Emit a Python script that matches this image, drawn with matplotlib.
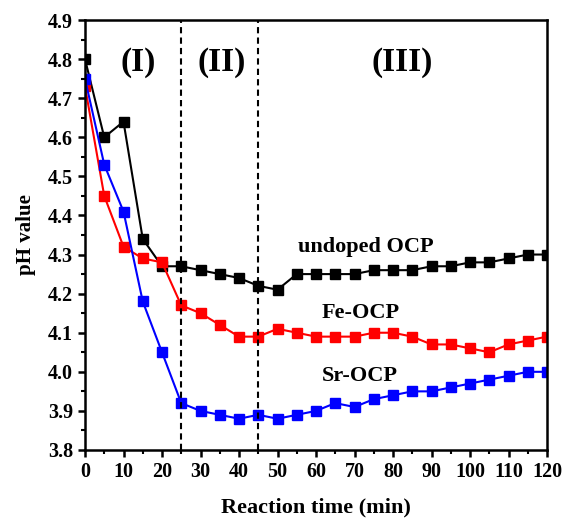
import matplotlib
matplotlib.use("Agg")
import matplotlib.pyplot as plt
import numpy as np
from matplotlib.ticker import MultipleLocator

time_min = [0, 5, 10, 15, 20, 25, 30, 35, 40, 45, 50, 55, 60, 65, 70, 75, 80, 85, 90, 95, 100, 105, 110, 115, 120]
undoped = [4.80, 4.60, 4.64, 4.34, 4.27, 4.27, 4.26, 4.25, 4.24, 4.22, 4.21, 4.25, 4.25, 4.25, 4.25, 4.26, 4.26, 4.26, 4.27, 4.27, 4.28, 4.28, 4.29, 4.30, 4.30]
fe_ocp = [4.73, 4.45, 4.32, 4.29, 4.28, 4.17, 4.15, 4.12, 4.09, 4.09, 4.11, 4.10, 4.09, 4.09, 4.09, 4.10, 4.10, 4.09, 4.07, 4.07, 4.06, 4.05, 4.07, 4.08, 4.09]
sr_ocp = [4.75, 4.53, 4.41, 4.18, 4.05, 3.92, 3.90, 3.89, 3.88, 3.89, 3.88, 3.89, 3.90, 3.92, 3.91, 3.93, 3.94, 3.95, 3.95, 3.96, 3.97, 3.98, 3.99, 4.00, 4.00]
stage_bounds = [25, 45]
stage_labels = ["(I)", "(II)", "(III)"]
series_labels = ["undoped OCP", "Fe-OCP", "Sr-OCP"]

plt.rcParams['font.family'] = ['Liberation Serif', 'DejaVu Serif']
plt.rcParams['font.weight'] = 'bold'

fig = plt.figure(figsize=(5.65, 5.21), dpi=100)
ax = fig.add_axes([85/565, 1 - 450/521, 462/565, 430/521])

ms = 6.5
ax.plot(time_min, undoped, color='black', marker='s', markersize=ms, lw=1.5)
ax.plot(time_min, fe_ocp, color='#ff0000', marker='s', markersize=ms, lw=1.5)
ax.plot(time_min, sr_ocp, color='#0000ff', marker='s', markersize=ms, lw=1.5)

for b in stage_bounds:
    ax.axvline(b, color='black', ls=(0, (3, 2)), lw=1.5)

ax.set_xlim(0, 120)
ax.set_ylim(3.8, 4.9)
ax.xaxis.set_major_locator(MultipleLocator(10))
ax.xaxis.set_minor_locator(MultipleLocator(5))
ax.yaxis.set_major_locator(MultipleLocator(0.1))
ax.yaxis.set_minor_locator(MultipleLocator(0.05))
ax.yaxis.set_major_formatter(matplotlib.ticker.FormatStrFormatter('%.1f'))
ax.tick_params(which='major', direction='out', length=5, width=1.8, labelsize=14.5)
ax.tick_params(which='minor', direction='out', length=3, width=1.5)
ax.tick_params(top=False, right=False)
for lab in ax.get_xticklabels() + ax.get_yticklabels():
    lab.set_fontweight('bold')
for s in ax.spines.values():
    s.set_linewidth(1.8)

ax.set_xlabel("Reaction time (min)", fontsize=16, fontweight='bold', labelpad=11)
ax.set_ylabel("pH value", fontsize=15, fontweight='bold', labelpad=9)

ax.text(13.8, 4.79, stage_labels[0], fontsize=24, fontweight='bold', ha='center', va='center')
ax.text(35.6, 4.79, stage_labels[1], fontsize=24, fontweight='bold', ha='center', va='center')
ax.text(82.3, 4.79, stage_labels[2], fontsize=24, fontweight='bold', ha='center', va='center')

ax.text(73, 4.32, series_labels[0], fontsize=16, fontweight='bold', ha='center', va='center')
ax.text(71.5, 4.15, series_labels[1], fontsize=16, fontweight='bold', ha='center', va='center')
ax.text(71.5, 3.99, series_labels[2], fontsize=16, fontweight='bold', ha='center', va='center')

fig.savefig("out.png", dpi=100)
